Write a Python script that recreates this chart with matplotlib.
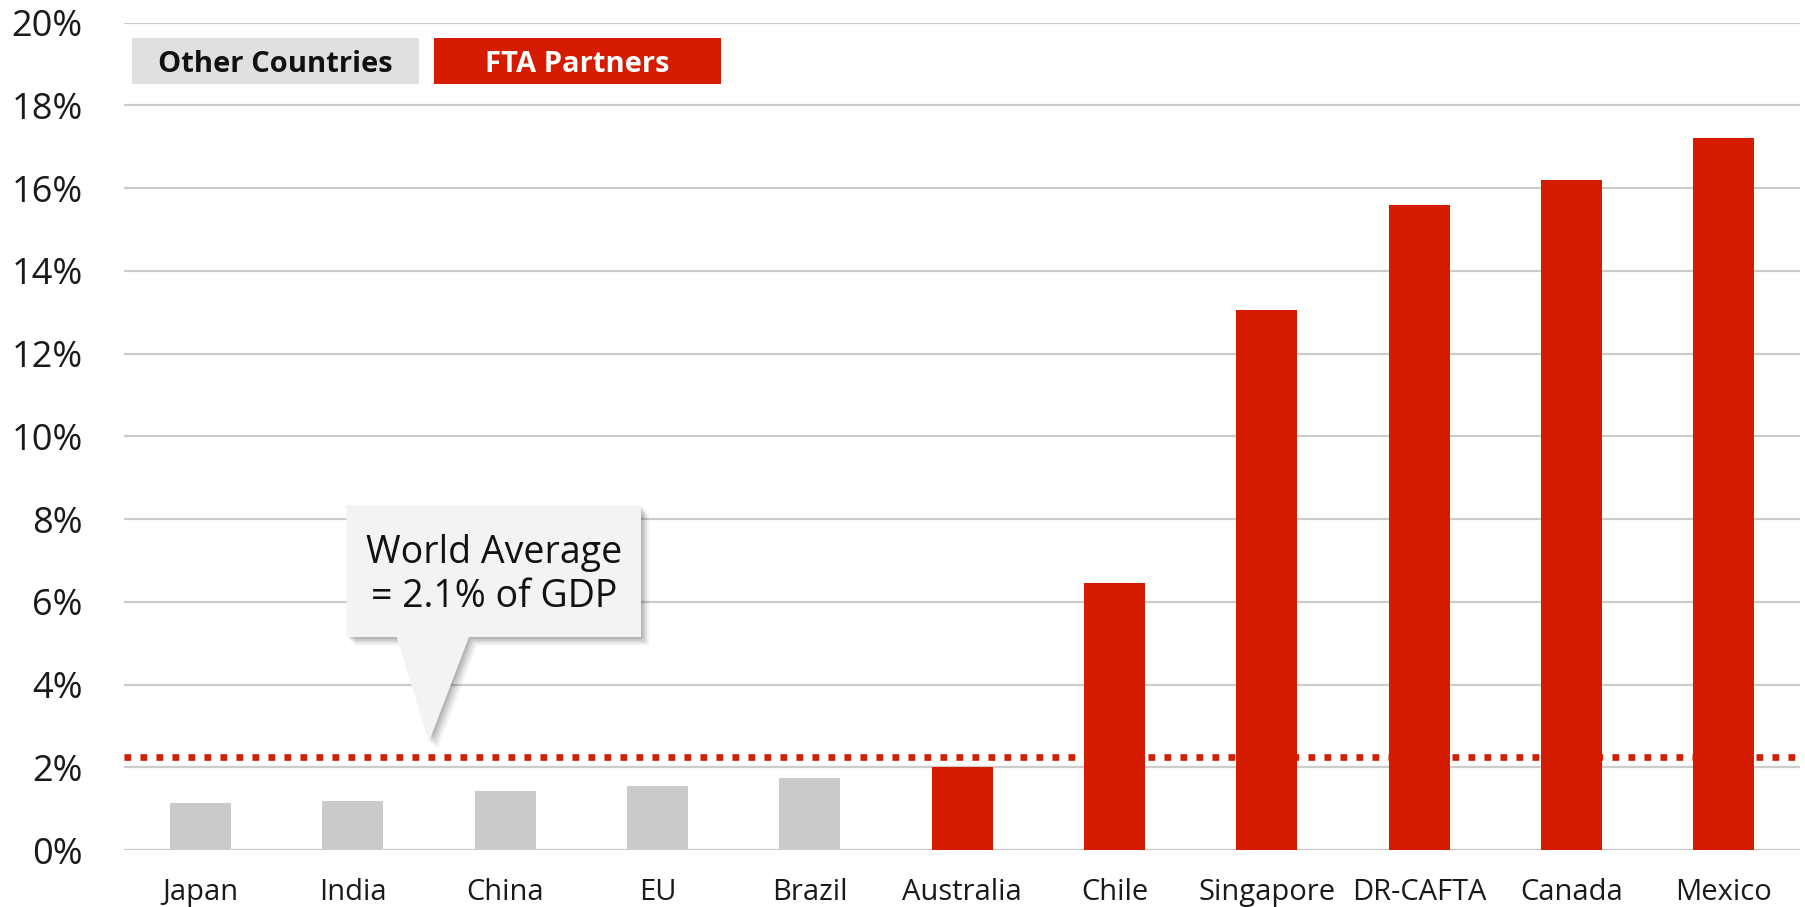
import matplotlib
matplotlib.use("Agg")
import matplotlib.pyplot as plt
import matplotlib.patheffects as pe
from matplotlib.patches import Rectangle, Polygon

plt.rcParams['font.family'] = ['Open Sans', 'DejaVu Sans']

countries = ["Japan", "India", "China", "EU", "Brazil", "Australia", "Chile",
             "Singapore", "DR-CAFTA", "Canada", "Mexico"]
values = [1.13, 1.18, 1.43, 1.55, 1.74, 2.01, 6.45, 13.05, 15.6, 16.2, 17.22]
is_fta = [False, False, False, False, False, True, True, True, True, True, True]
world_avg_line = 2.24
y_ticks = [0, 2, 4, 6, 8, 10, 12, 14, 16, 18, 20]
y_tick_labels = [f"{t}%" for t in y_ticks]
legend_labels = ["Other Countries", "FTA Partners"]
callout_text = "World Average\n= 2.1% of GDP"

RED = "#d51c00"
GREY_BAR = "#cbcbcb"
GREY_LEG = "#e0e0e0"
GRID = "#cccccc"

fig = plt.figure(figsize=(18.06, 9.07), dpi=100)
ax = fig.add_axes([0.0689, 0.0628, 0.9278, 0.9122])

x = list(range(len(countries)))
colors = [RED if f else GREY_BAR for f in is_fta]
ax.bar(x, values, width=0.4, color=colors, zorder=2)

ax.set_xlim(-0.5, len(countries) - 0.5)
ax.set_ylim(0, 20)
ax.set_yticks(y_ticks)
ax.set_yticklabels(y_tick_labels, fontsize=26, color="#1a1a1a")
ax.set_xticks(x)
ax.set_xticklabels(countries, fontsize=21, color="#1a1a1a")
ax.tick_params(axis='y', length=0, pad=30)
ax.tick_params(axis='x', length=0, pad=20)
for s in ax.spines.values():
    s.set_visible(False)
for t in y_ticks:
    ax.axhline(t, color=GRID, lw=1.6, zorder=1)

# world average dotted line
ax.plot([-0.5, len(countries) - 0.5], [world_avg_line, world_avg_line],
        color=RED, lw=4.8, linestyle=(0, (1, 1.4)), dash_capstyle='butt',
        solid_capstyle='butt', zorder=3)

# callout
verts = [(0.96, 8.32), (2.89, 8.32), (2.89, 5.15), (1.76, 5.15),
         (1.5, 2.64), (1.29, 5.15), (0.96, 5.15)]
shadow = [pe.withSimplePatchShadow(offset=(o, -o), shadow_rgbFace="#000000", alpha=a)
          for o, a in [(6, 0.05), (4.5, 0.07), (3, 0.09), (1.5, 0.1)]]
poly = Polygon(verts, closed=True, facecolor="#f3f3f3", edgecolor="none", zorder=4,
               path_effects=shadow + [pe.Normal()])
ax.add_patch(poly)
ax.text((0.96 + 2.89) / 2, (8.32 + 5.15) / 2 - 0.08, callout_text, ha="center", va="center",
        fontsize=27, color="#111111", linespacing=1.22, zorder=5)

# legend boxes
leg_specs = [(0.0048, GREY_LEG, "#111111"), (0.185, RED, "white")]
for (x0, fc, tc), lab in zip(leg_specs, legend_labels):
    ax.add_patch(Rectangle((x0, 0.926), 0.171, 0.0555, transform=ax.transAxes,
                           facecolor=fc, edgecolor="none", zorder=5, clip_on=False))
    ax.text(x0 + 0.0855, 0.926 + 0.0555 / 2, lab, transform=ax.transAxes, ha="center",
            va="center_baseline", fontsize=21, fontweight="bold", color=tc, zorder=6)

fig.savefig("out.png", dpi=100)
